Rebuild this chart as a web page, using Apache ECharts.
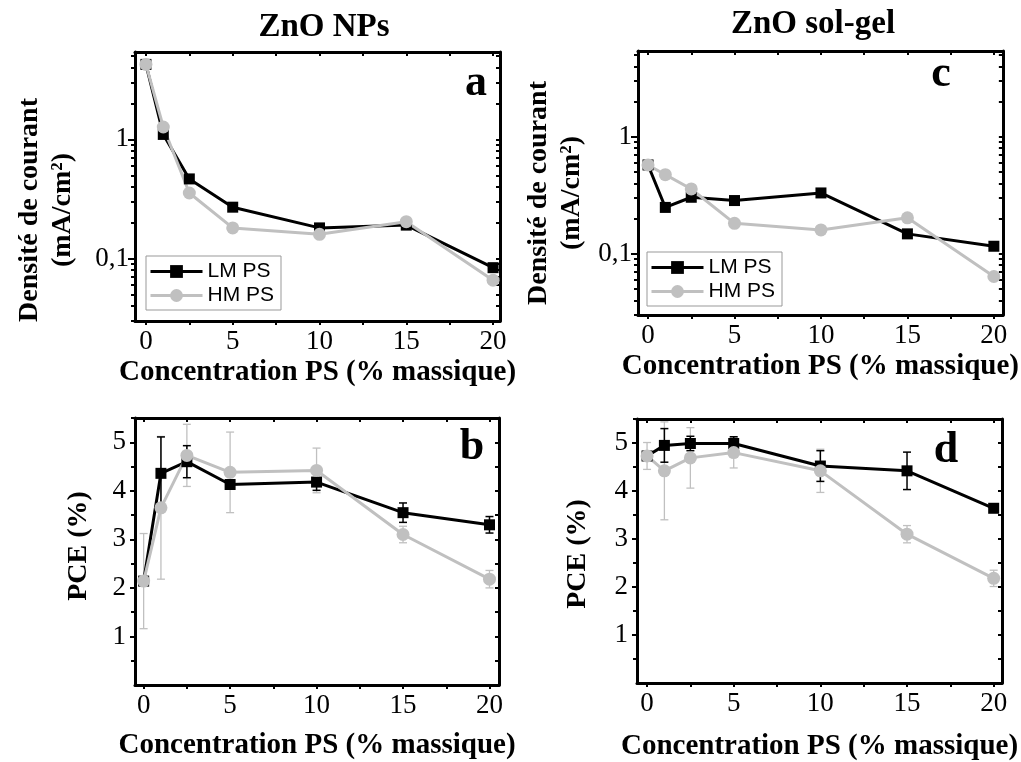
<!DOCTYPE html>
<html>
<head>
<meta charset="utf-8">
<script src="https://cdn.jsdelivr.net/npm/echarts@6/dist/echarts.min.js"></script>
<style>html,body{margin:0;padding:0;background:#fff}#c{width:1021px;height:762px}</style>
</head>
<body>
<div id="c"></div>
<script>
// ---------- data ----------
const conc = [0, 1, 2.5, 5, 10, 15, 20];
// Current density (mA/cm²), log scale
const jNP_LM = [4.25, 1.10, 0.466, 0.27, 0.181, 0.191, 0.084];
const jNP_HM = [4.25, 1.27, 0.355, 0.181, 0.160, 0.204, 0.066];
const jSG_LM = [0.574, 0.249, 0.304, 0.285, 0.331, 0.148, 0.116];
const jSG_HM = [0.574, 0.474, 0.358, 0.182, 0.160, 0.203, 0.064];
// PCE (%) with error
const pceNP_LM = [2.14, 4.36, 4.60, 4.13, 4.18, 3.55, 3.30];
const pceNP_LM_err = [0.05, 0.75, 0.33, 0.06, 0.17, 0.20, 0.17];
const pceNP_HM = [2.14, 3.65, 4.73, 4.38, 4.42, 3.10, 2.18];
const pceNP_HM_err = [0.98, 1.47, 0.64, 0.83, 0.46, 0.17, 0.18];
const pceSG_LM = [4.73, 4.95, 4.99, 4.99, 4.52, 4.42, 3.64];
const pceSG_LM_err = [0.05, 0.35, 0.15, 0.14, 0.32, 0.39, 0.05];
const pceSG_HM = [4.73, 4.42, 4.69, 4.80, 4.42, 3.10, 2.18];
const pceSG_HM_err = [0.28, 1.02, 0.63, 0.32, 0.45, 0.18, 0.17];

const xLabelVals = [0, 5, 10, 15, 20];
const xTickVals = [0, 2.5, 5, 7.5, 10, 12.5, 15, 17.5, 20];
const logLabelVals = [0.1, 1];
const logMinorVals = [0.03,0.04,0.05,0.06,0.07,0.08,0.09,0.2,0.3,0.4,0.5,0.6,0.7,0.8,0.9,2,3,4,5];
const pceLabelVals = [1, 2, 3, 4, 5];
const pceTickVals = [0.5, 1, 1.5, 2, 2.5, 3, 3.5, 4, 4.5, 5, 5.5];
const seriesNames = ['LM PS', 'HM PS'];
const xTitle = 'Concentration PS (% massique)';

// ---------- style ----------
const SERIF = '"Liberation Serif", "Times New Roman", serif';
const SANS = '"Liberation Sans", Arial, sans-serif';
const BLACK = '#000000';
const GRAY = '#c0c0c0';

const grids = [
  {left: 135, top: 52, width: 365, height: 269},   // a
  {left: 135, top: 418, width: 364, height: 267},  // b
  {left: 638, top: 51, width: 365, height: 264},   // c
  {left: 637, top: 419, width: 365, height: 267}   // d
];
const xRanges = [[-0.63, 20.4], [-0.5, 20.55], [-0.58, 20.52], [-0.58, 20.48]];
const nameGaps = [37, 46, 37, 49];

const pairs = a => conc.map((x, i) => [x, a[i]]);
const triples = (a, e) => conc.map((x, i) => [x, a[i], e[i]]);

const xAxes = [], yAxes = [];
grids.forEach((g, gi) => {
  const [mn, mx] = xRanges[gi];
  xAxes.push({
    gridIndex: gi, type: 'value', position: 'bottom', min: mn, max: mx,
    axisLine: {show: true, onZero: false, lineStyle: {color: BLACK, width: 3}},
    axisTick: {show: true, inside: false, length: 4, lineStyle: {color: BLACK, width: 2}, customValues: xTickVals},
    axisLabel: {show: true, customValues: xLabelVals, color: BLACK, fontFamily: SERIF, fontSize: 27, margin: 7},
    splitLine: {show: false},
    name: xTitle, nameLocation: 'middle', nameGap: nameGaps[gi],
    nameTextStyle: {color: BLACK, fontFamily: SERIF, fontSize: 29, fontWeight: 'bold'}
  });
  xAxes.push({
    gridIndex: gi, type: 'value', position: 'top', min: mn, max: mx,
    axisLine: {show: true, onZero: false, lineStyle: {color: BLACK, width: 3}},
    axisTick: {show: true, inside: true, length: 4, lineStyle: {color: BLACK, width: 2}, customValues: xTickVals},
    axisLabel: {show: false}, splitLine: {show: false}
  });
  const isLog = (gi === 0 || gi === 2);
  const base = isLog ? {type: 'log', logBase: 10, min: 0.03, max: 5.4} : {type: 'value', min: 0, max: 5.5};
  const majors = isLog ? logLabelVals : pceLabelVals;
  const minors = isLog ? logMinorVals : pceTickVals;
  const fmt = v => {
    if (!isLog) return String(Math.round(v));
    if (Math.abs(v - 1) < 1e-6) return '1';
    if (Math.abs(v - 0.1) < 1e-6) return '0,1';
    return '';
  };
  // left: labels + major ticks
  yAxes.push(Object.assign({
    gridIndex: gi, position: 'left',
    axisLine: {show: true, onZero: false, lineStyle: {color: BLACK, width: 3}},
    axisTick: {show: true, inside: false, length: isLog ? 7 : 5, lineStyle: {color: BLACK, width: 2}, customValues: majors},
    axisLabel: {show: true, customValues: majors, formatter: fmt, color: BLACK, fontFamily: SERIF, fontSize: 27, margin: isLog ? 6 : 9},
    splitLine: {show: false}
  }, base));
  // left: minor ticks
  yAxes.push(Object.assign({
    gridIndex: gi, position: 'left',
    axisLine: {show: false, onZero: false},
    axisTick: {show: true, inside: false, length: 4, lineStyle: {color: BLACK, width: 2}, customValues: minors},
    axisLabel: {show: false}, splitLine: {show: false}
  }, base));
  // right mirror
  yAxes.push(Object.assign({
    gridIndex: gi, position: 'right',
    axisLine: {show: true, onZero: false, lineStyle: {color: BLACK, width: 3}},
    axisTick: {show: true, inside: true, length: 4, lineStyle: {color: BLACK, width: 2}, customValues: majors.concat(minors)},
    axisLabel: {show: false}, splitLine: {show: false}
  }, base));
});

function errRender(color, width, cap) {
  return function (params, api) {
    const x = api.value(0), y = api.value(1), e = api.value(2);
    const hi = api.coord([x, y + e]);
    const lo = api.coord([x, y - e]);
    const style = {stroke: color, lineWidth: width};
    return {
      type: 'group',
      children: [
        {type: 'line', shape: {x1: hi[0], y1: hi[1], x2: lo[0], y2: lo[1]}, style: style},
        {type: 'line', shape: {x1: hi[0] - cap, y1: hi[1], x2: hi[0] + cap, y2: hi[1]}, style: style},
        {type: 'line', shape: {x1: lo[0] - cap, y1: lo[1], x2: lo[0] + cap, y2: lo[1]}, style: style}
      ]
    };
  };
}

function lineSeries(name, gi, data, isLM) {
  return {
    name: name, type: 'line', xAxisIndex: gi * 2, yAxisIndex: gi * 3,
    data: pairs(data),
    symbol: isLM ? 'rect' : 'circle', symbolSize: isLM ? 11 : 13,
    showSymbol: true,
    lineStyle: {color: isLM ? BLACK : GRAY, width: 3},
    itemStyle: {color: isLM ? BLACK : GRAY},
    animation: false, z: 3
  };
}
function errSeries(gi, data, err, isLM) {
  return {
    name: (isLM ? 'errLM' : 'errHM') + gi, type: 'custom', xAxisIndex: gi * 2, yAxisIndex: gi * 3,
    data: triples(data, err), encode: {x: 0, y: 1},
    renderItem: errRender(isLM ? BLACK : GRAY, isLM ? 1.5 : 1.3, 4),
    animation: false, z: 2
  };
}

const series = [
  lineSeries(seriesNames[0], 0, jNP_LM, true),
  lineSeries(seriesNames[1], 0, jNP_HM, false),
  errSeries(1, pceNP_HM, pceNP_HM_err, false),
  errSeries(1, pceNP_LM, pceNP_LM_err, true),
  lineSeries(seriesNames[0], 1, pceNP_LM, true),
  lineSeries(seriesNames[1], 1, pceNP_HM, false),
  lineSeries(seriesNames[0], 2, jSG_LM, true),
  lineSeries(seriesNames[1], 2, jSG_HM, false),
  errSeries(3, pceSG_HM, pceSG_HM_err, false),
  errSeries(3, pceSG_LM, pceSG_LM_err, true),
  lineSeries(seriesNames[0], 3, pceSG_LM, true),
  lineSeries(seriesNames[1], 3, pceSG_HM, false)
];

const legendBase = {
  data: seriesNames, orient: 'vertical', itemWidth: 52, itemHeight: 16, itemGap: 3,
  padding: [5, 7, 4, 3], borderColor: '#999999', borderWidth: 1, backgroundColor: '#ffffff',
  lineStyle: {width: 3},
  textStyle: {color: BLACK, fontFamily: SANS, fontSize: 21}, selectedMode: false
};
const legends = [
  Object.assign({left: 146, top: 256}, legendBase),
  Object.assign({left: 647, top: 252}, legendBase)
];

const titleFont = 'bold 33px ' + SERIF;
const axisTitleFont = 'bold 28px ' + SERIF;
const letterFont = 'bold 44px ' + SERIF;
const txt = (text, x, y, font, rot) => ({
  type: 'text', x: x, y: y, rotation: rot || 0, z: 10,
  style: {text: text, font: font, fill: BLACK, align: 'center', verticalAlign: 'middle', lineHeight: 33}
});
const graphic = [
  txt('ZnO NPs', 324, 27, titleFont),
  txt('ZnO sol-gel', 813, 24, titleFont),
  txt('Densité de courant\n(mA/cm²)', 46, 210, axisTitleFont, Math.PI / 2),
  txt('Densité de courant\n(mA/cm²)', 555, 193, axisTitleFont, Math.PI / 2),
  txt('PCE (%)', 79, 546, axisTitleFont, Math.PI / 2),
  txt('PCE (%)', 578, 554, axisTitleFont, Math.PI / 2),
  txt('a', 476, 84, letterFont),
  txt('c', 941, 75, letterFont),
  txt('b', 472, 448, letterFont),
  txt('d', 946, 451, letterFont)
];

const chart = echarts.init(document.getElementById('c'), null, {renderer: 'canvas'});
chart.setOption({
  animation: false,
  backgroundColor: '#ffffff',
  grid: grids,
  xAxis: xAxes,
  yAxis: yAxes,
  legend: legends,
  series: series,
  graphic: graphic
});
</script>
</body>
</html>
